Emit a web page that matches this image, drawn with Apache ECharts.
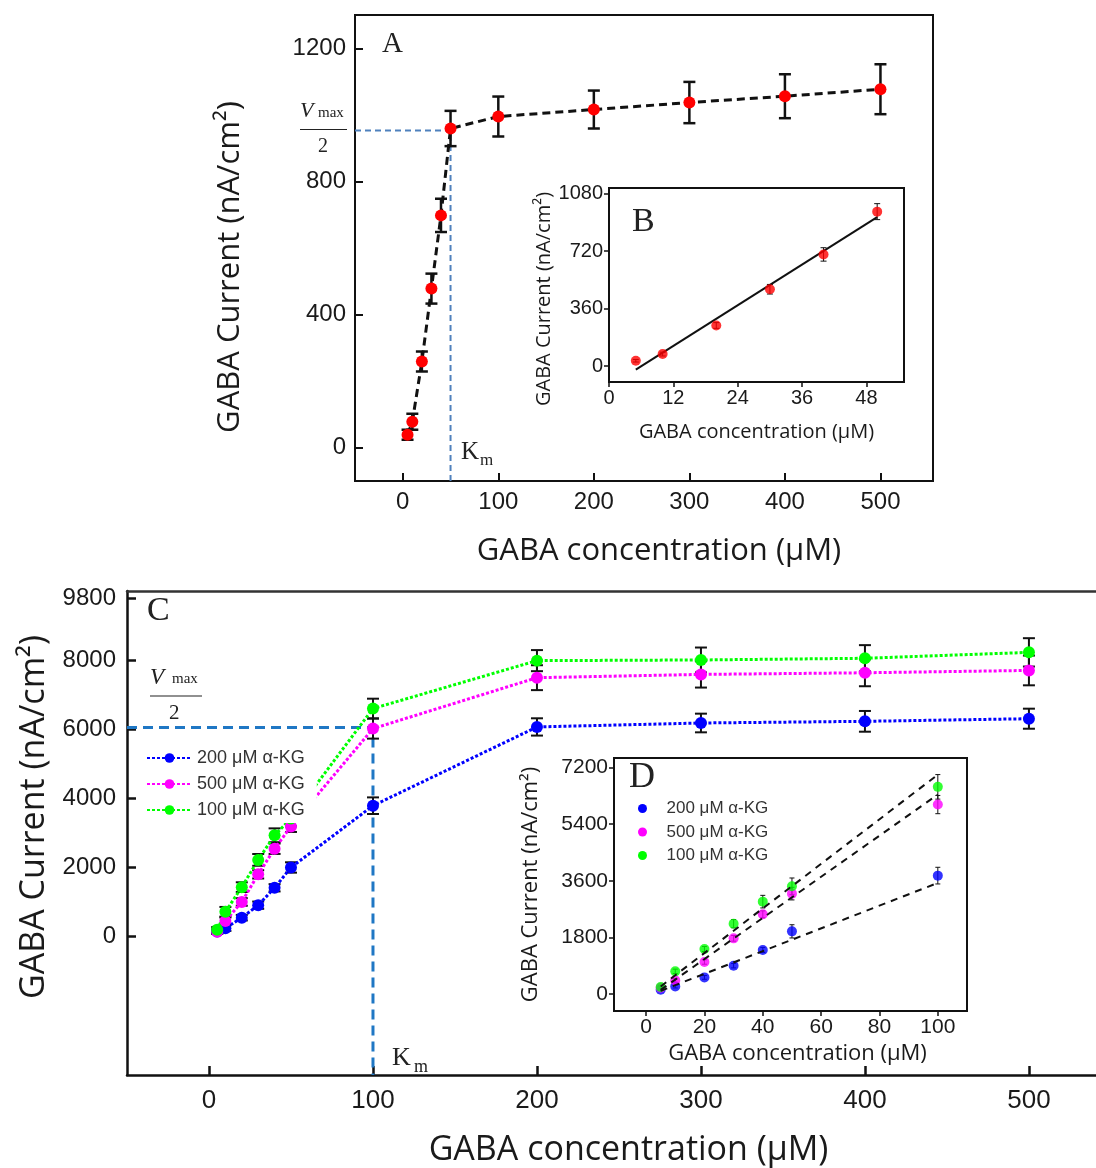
<!DOCTYPE html>
<html><head><meta charset="utf-8">
<script src="https://cdn.jsdelivr.net/npm/echarts@6/dist/echarts.min.js"></script>
<style>html,body{margin:0;padding:0;background:#fff}#c{width:1096px;height:1168px}</style>
</head><body><div id="c"></div>
<script>
// ---------- Panel A (main, saturation curve) ----------
const concA = [5, 10, 20, 30, 40, 50, 100, 200, 300, 400, 500];
const currentA = [39, 78, 259, 478, 698, 959, 995, 1016, 1037, 1056, 1077];
const errA = [15, 24, 30, 45, 50, 53, 60, 57, 62, 66, 75];
const kmA = 50;
const halfVmaxA = 953;
const ticksAX = [0, 100, 200, 300, 400, 500];
const ticksAY = [0, 400, 800, 1200];

// ---------- Panel B (inset, linear range) ----------
const concB = [5, 10, 20, 30, 40, 50];
const currentB = [33, 75, 254, 481, 699, 967];
const errB = [8, 12, 18, 30, 42, 50];
const fitBX = [5, 50];
const fitBY = [-23, 932];
const ticksBX = [0, 12, 24, 36, 48];
const ticksBY = [0, 360, 720, 1080];

// ---------- Panel C (main, three α-KG levels) ----------
const concC = [5, 10, 20, 30, 40, 50, 100, 200, 300, 400, 500];
const blueC = [152, 247, 550, 912, 1415, 2003, 3790, 6068, 6182, 6230, 6306];
const blueErrC = [60, 80, 80, 105, 105, 150, 240, 250, 270, 300, 290];
const magentaC = [142, 456, 1006, 1804, 2545, 3190, 6020, 7493, 7587, 7635, 7702];
const magentaErrC = [60, 100, 110, 120, 150, 160, 290, 360, 380, 390, 430];
const greenC = [199, 721, 1434, 2222, 2934, 3422, 6600, 7986, 8005, 8054, 8225];
const greenErrC = [80, 140, 140, 170, 200, 230, 285, 305, 360, 380, 410];
const kmC = 100;
const halfVmaxC = 6050;
const ticksCX = [0, 100, 200, 300, 400, 500];
const ticksCY = [0, 2000, 4000, 6000, 8000, 9800];
const seriesNames = ['200 μM α-KG', '500 μM α-KG', '100 μM α-KG'];

// ---------- Panel D (inset, linear range) ----------
const concD = [5, 10, 20, 30, 40, 50, 100];
const blueD = [137, 242, 528, 900, 1399, 1991, 3762];
const blueErrD = [40, 50, 60, 70, 80, 210, 265];
const magentaD = [200, 433, 1017, 1769, 2532, 3190, 6020];
const magentaErrD = [40, 60, 70, 90, 110, 200, 290];
const greenD = [222, 720, 1430, 2235, 2935, 3422, 6583];
const greenErrD = [50, 70, 80, 130, 200, 265, 390];
const fitDX = [5, 100];
const fitBlueD = [100, 3530];
const fitMagentaD = [130, 6340];
const fitGreenD = [240, 6970];
const ticksDX = [0, 20, 40, 60, 80, 100];
const ticksDY = [0, 1800, 3600, 5400, 7200];

// ---------- helpers ----------
const BLUE = '#0000ff', MAGENTA = '#ff00ff', GREEN = '#00ff00';
const SANS = 'Liberation Sans, Arial, sans-serif';
const TITLE = 'Open Sans, Noto Sans, sans-serif';
const SERIF = 'Liberation Serif, Times New Roman, serif';

const pairs = (xs, ys) => xs.map((x, i) => [x, ys[i]]);
const triples = (xs, ys, es) => xs.map((x, i) => [x, ys[i], es[i]]);
const plain = v => String(v);

function errRender(capHalf, lw) {
  return function (params, api) {
    const x = api.value(0), y = api.value(1), e = api.value(2);
    const t = api.coord([x, y + e]);
    const b = api.coord([x, y - e]);
    const style = { stroke: '#111', lineWidth: lw };
    return {
      type: 'group', children: [
        { type: 'line', shape: { x1: t[0], y1: t[1], x2: b[0], y2: b[1] }, style },
        { type: 'line', shape: { x1: t[0] - capHalf, y1: t[1], x2: t[0] + capHalf, y2: t[1] }, style },
        { type: 'line', shape: { x1: b[0] - capHalf, y1: b[1], x2: b[0] + capHalf, y2: b[1] }, style }
      ]
    };
  };
}
function errSeries(xi, data, capHalf, lw, z) {
  return {
    type: 'custom', xAxisIndex: xi, yAxisIndex: xi, data: data,
    encode: { x: 0, y: 1 }, renderItem: errRender(capHalf, lw), z: z || 2, silent: true
  };
}

function xAx(grid, min, max, ticks, o) {
  return {
    type: 'value', gridIndex: grid, min: min, max: max,
    axisLine: { show: true, onZero: false, lineStyle: { color: '#111', width: o.lw } },
    axisTick: { show: true, inside: o.inside, length: o.tl, customValues: ticks, lineStyle: { color: '#111', width: o.lw } },
    axisLabel: { customValues: ticks, formatter: plain, margin: o.margin, fontSize: o.fs, color: '#1a1a1a', fontFamily: SANS },
    splitLine: { show: false },
    name: 'GABA concentration (μM)', nameLocation: 'middle', nameGap: o.gap,
    nameTextStyle: { fontSize: o.nfs, fontFamily: TITLE, color: '#1a1a1a', padding: o.pad || 0 }
  };
}
function yAx(grid, min, max, ticks, o) {
  return {
    type: 'value', gridIndex: grid, min: min, max: max,
    axisLine: { show: true, onZero: false, lineStyle: { color: '#111', width: o.lw } },
    axisTick: { show: true, inside: o.inside, length: o.tl, customValues: ticks, lineStyle: { color: '#111', width: o.lw } },
    axisLabel: { customValues: ticks, formatter: plain, margin: o.margin, fontSize: o.fs, color: '#1a1a1a', fontFamily: SANS },
    splitLine: { show: false },
    name: 'GABA Current (nA/cm²)', nameLocation: 'middle', nameGap: o.gap,
    nameTextStyle: { fontSize: o.nfs, fontFamily: TITLE, color: '#1a1a1a', padding: o.pad || 0 }
  };
}

const chart = echarts.init(document.getElementById('c'), null, { renderer: 'canvas' });

const C_MIN = -50, C_MAX = 540.9;

const option = {
  animation: false,
  backgroundColor: '#fff',
  grid: [
    { left: 355, top: 15, width: 578, height: 466, show: true, borderColor: '#111', borderWidth: 2, backgroundColor: '#fff' },
    { left: 609, top: 188, width: 295, height: 194, show: true, borderColor: '#111', borderWidth: 2, backgroundColor: '#fff', z: 5 },
    { left: 127, top: 591, right: 0, height: 491, show: false },
    { left: 614, top: 758, width: 353, height: 253, show: true, borderColor: '#111', borderWidth: 2, backgroundColor: '#fff', z: 5 }
  ],
  xAxis: [
    xAx(0, -50, 555, ticksAX, { lw: 2, inside: true, tl: 8, margin: 9, fs: 24, gap: 55, nfs: 31, pad: [0, 0, 0, 30] }),
    xAx(1, 0, 55, ticksBX, { lw: 1.5, inside: false, tl: 5, margin: 6, fs: 20, gap: 40, nfs: 20 }),
    xAx(2, C_MIN, C_MAX, ticksCX, { lw: 2.5, inside: true, tl: 9, margin: 13, fs: 26, gap: 58, nfs: 34, pad: [0, 0, 0, 34] }),
    xAx(3, -11, 110, ticksDX, { lw: 1.5, inside: false, tl: 5, margin: 6, fs: 21, gap: 32, nfs: 22, pad: [0, 0, 0, 14] }),
    // top frame line of panel C (no ticks / labels)
    {
      type: 'value', gridIndex: 2, position: 'top', min: C_MIN, max: C_MAX,
      axisLine: { show: true, onZero: false, lineStyle: { color: '#333', width: 2.5 } },
      axisTick: { show: false }, axisLabel: { show: false }, splitLine: { show: false }
    }
  ],
  yAxis: [
    yAx(0, -100, 1300, ticksAY, { lw: 2, inside: true, tl: 8, margin: 9, fs: 24, gap: 109, nfs: 31, pad: [0, 38, 0, 0] }),
    yAx(1, -100, 1115, ticksBY, { lw: 1.5, inside: false, tl: 5, margin: 6, fs: 20, gap: 54, nfs: 20, pad: [0, 28, 0, 0] }),
    yAx(2, -4000, 10000, ticksCY, { lw: 2.5, inside: true, tl: 9, margin: 11, fs: 24, gap: 56, nfs: 34, pad: [0, 0, 0, 32] }),
    yAx(3, -540, 7500, ticksDY, { lw: 1.5, inside: false, tl: 5, margin: 6, fs: 21, gap: 72, nfs: 22 })
  ],
  legend: [
    {
      data: seriesNames, orient: 'vertical', left: 140, top: 745, backgroundColor: '#fff',
      padding: [4, 12, 4, 6], itemGap: 8, itemWidth: 45, itemHeight: 12, z: 10,
      textStyle: { fontSize: 18, color: '#333', fontFamily: SANS }, selectedMode: false
    },
    {
      data: seriesNames.map(n => ({ name: n, icon: 'circle' })), orient: 'vertical', left: 638, top: 800,
      padding: 0, itemGap: 6.5, itemWidth: 38, itemHeight: 9, z: 10,
      textStyle: { fontSize: 17, color: '#333', fontFamily: SANS }, selectedMode: false
    }
  ],
  series: [
    // ----- A -----
    {
      type: 'line', xAxisIndex: 0, yAxisIndex: 0, silent: true, symbol: 'none',
      data: [[-50, halfVmaxA], [kmA, halfVmaxA], [kmA, -100]],
      lineStyle: { color: '#4f81bd', width: 2, type: [6, 4] }, z: 1
    },
    errSeries(0, triples(concA, currentA, errA), 6, 2.5, 2),
    {
      type: 'line', xAxisIndex: 0, yAxisIndex: 0, data: pairs(concA, currentA),
      lineStyle: { color: '#111', width: 3, type: [8, 5] },
      symbol: 'circle', symbolSize: 12, itemStyle: { color: '#ff0000' }, z: 3
    },
    // ----- B -----
    errSeries(1, triples(concB, currentB, errB), 3, 1, 6),
    {
      type: 'line', xAxisIndex: 1, yAxisIndex: 1, data: pairs(fitBX, fitBY), symbol: 'none',
      lineStyle: { color: '#111', width: 2 }, z: 6
    },
    {
      type: 'scatter', xAxisIndex: 1, yAxisIndex: 1, data: pairs(concB, currentB),
      symbolSize: 10, itemStyle: { color: '#ff0000' }, z: 7
    },
    // ----- C -----
    {
      type: 'line', xAxisIndex: 2, yAxisIndex: 2, silent: true, symbol: 'none',
      data: [[C_MIN, halfVmaxC], [kmC, halfVmaxC], [kmC, -4000]],
      lineStyle: { color: '#1f77c4', width: 3, type: [10, 6] }, z: 1
    },
    errSeries(2, triples(concC, greenC, greenErrC), 6, 2, 2),
    errSeries(2, triples(concC, magentaC, magentaErrC), 6, 2, 2),
    errSeries(2, triples(concC, blueC, blueErrC), 6, 2, 2),
    {
      name: seriesNames[0], type: 'line', xAxisIndex: 2, yAxisIndex: 2, data: pairs(concC, blueC),
      lineStyle: { color: BLUE, width: 3, type: [3, 2] }, symbol: 'circle', symbolSize: 12,
      itemStyle: { color: BLUE }, z: 3
    },
    {
      name: seriesNames[1], type: 'line', xAxisIndex: 2, yAxisIndex: 2, data: pairs(concC, magentaC),
      lineStyle: { color: MAGENTA, width: 3, type: [3, 2] }, symbol: 'circle', symbolSize: 12,
      itemStyle: { color: MAGENTA }, z: 3
    },
    {
      name: seriesNames[2], type: 'line', xAxisIndex: 2, yAxisIndex: 2, data: pairs(concC, greenC),
      lineStyle: { color: GREEN, width: 3, type: [3, 2] }, symbol: 'circle', symbolSize: 12,
      itemStyle: { color: GREEN }, z: 3
    },
    // ----- D -----
    errSeries(3, triples(concD, blueD, blueErrD), 2.5, 1, 6),
    errSeries(3, triples(concD, magentaD, magentaErrD), 2.5, 1, 6),
    errSeries(3, triples(concD, greenD, greenErrD), 2.5, 1, 6),
    {
      type: 'scatter', xAxisIndex: 3, yAxisIndex: 3, data: pairs(concD, blueD),
      symbolSize: 10, itemStyle: { color: BLUE }, z: 7
    },
    {
      type: 'scatter', xAxisIndex: 3, yAxisIndex: 3, data: pairs(concD, magentaD),
      symbolSize: 10, itemStyle: { color: MAGENTA }, z: 7
    },
    {
      type: 'scatter', xAxisIndex: 3, yAxisIndex: 3, data: pairs(concD, greenD),
      symbolSize: 10, itemStyle: { color: GREEN }, z: 7
    },
    {
      type: 'line', xAxisIndex: 3, yAxisIndex: 3, data: pairs(fitDX, fitBlueD), symbol: 'none',
      lineStyle: { color: '#111', width: 2, type: [7, 6] }, z: 8
    },
    {
      type: 'line', xAxisIndex: 3, yAxisIndex: 3, data: pairs(fitDX, fitMagentaD), symbol: 'none',
      lineStyle: { color: '#111', width: 2, type: [7, 6] }, z: 8
    },
    {
      type: 'line', xAxisIndex: 3, yAxisIndex: 3, data: pairs(fitDX, fitGreenD), symbol: 'none',
      lineStyle: { color: '#111', width: 2, type: [7, 6] }, z: 8
    }
  ],
  graphic: [
    // panel letters
    { type: 'text', left: 382, top: 30, z: 20, style: { text: 'A', font: '29px ' + SERIF, fill: '#222' } },
    { type: 'text', left: 632, top: 205, z: 20, style: { text: 'B', font: '34px ' + SERIF, fill: '#222' } },
    { type: 'text', left: 147, top: 594, z: 20, style: { text: 'C', font: '34px ' + SERIF, fill: '#222' } },
    { type: 'text', left: 629, top: 760, z: 20, style: { text: 'D', font: '36px ' + SERIF, fill: '#222' } },
    // Km labels
    { type: 'text', left: 461, top: 440, z: 20, style: { text: 'K', font: '25px ' + SERIF, fill: '#222' } },
    { type: 'text', left: 480, top: 452, z: 20, style: { text: 'm', font: '17px ' + SERIF, fill: '#222' } },
    { type: 'text', left: 392, top: 1045, z: 20, style: { text: 'K', font: '26px ' + SERIF, fill: '#222' } },
    { type: 'text', left: 414, top: 1058, z: 20, style: { text: 'm', font: '18px ' + SERIF, fill: '#222' } },
    // Vmax / 2 (panel A)
    { type: 'text', left: 300, top: 100, z: 20, style: { text: 'V', font: 'italic 22px ' + SERIF, fill: '#222' } },
    { type: 'text', left: 318, top: 106, z: 20, style: { text: 'max', font: '15px ' + SERIF, fill: '#222' } },
    { type: 'line', z: 20, shape: { x1: 300, y1: 129.5, x2: 347, y2: 129.5 }, style: { stroke: '#222', lineWidth: 1.2 } },
    { type: 'text', left: 318, top: 137, z: 20, style: { text: '2', font: '20px ' + SERIF, fill: '#222' } },
    // Vmax / 2 (panel C)
    { type: 'text', left: 150, top: 666, z: 20, style: { text: 'V', font: 'italic 23px ' + SERIF, fill: '#222' } },
    { type: 'text', left: 172, top: 672, z: 20, style: { text: 'max', font: '15px ' + SERIF, fill: '#222' } },
    { type: 'line', z: 20, shape: { x1: 150, y1: 696, x2: 202, y2: 696 }, style: { stroke: '#222', lineWidth: 1.2 } },
    { type: 'text', left: 169, top: 703, z: 20, style: { text: '2', font: '21px ' + SERIF, fill: '#222' } }
  ]
};
chart.setOption(option);
</script>
</body></html>
